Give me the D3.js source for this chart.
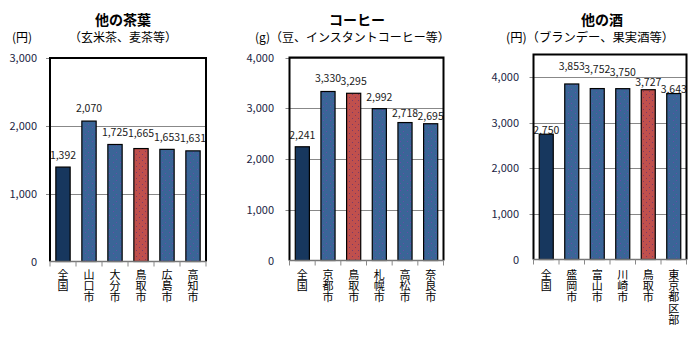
<!DOCTYPE html>
<html>
<head>
<meta charset="utf-8">
<script src="https://cdn.jsdelivr.net/npm/d3@7/dist/d3.min.js"></script>
<style>
  html, body { margin: 0; padding: 0; background: #fff; }
  svg { display: block; }
  text { font-family: "Noto Sans CJK JP", "Noto Sans", sans-serif; }
  .vname { writing-mode: vertical-rl; text-orientation: upright; }
</style>
</head>
<body>
<svg id="chart" width="700" height="340"></svg>
<script>
// ---- data ----
const teaCities   = ["全国", "山口市", "大分市", "鳥取市", "広島市", "高知市"];
const teaValues   = [1392, 2070, 1725, 1665, 1653, 1631];

const coffeeCities = ["全国", "京都市", "鳥取市", "札幌市", "高松市", "奈良市"];
const coffeeValues = [2241, 3330, 3295, 2992, 2718, 2695];

const liquorCities = ["全国", "盛岡市", "富山市", "川崎市", "鳥取市", "東京都区部"];
const liquorValues = [2750, 3853, 3752, 3750, 3727, 3643];

const teaTicks    = [0, 1000, 2000, 3000];
const coffeeTicks = [0, 1000, 2000, 3000, 4000];
const liquorTicks = [0, 1000, 2000, 3000, 4000];

// ---- layout of the three panels ----
const panels = [
  { cities: teaCities, values: teaValues, ticks: teaTicks, max: 3000,
    x0: 50, x1: 206, top: 58, bottom: 261.5, tickLabelX: 37,
    title: "他の茶葉", titleX: 123, titleY: 25,
    subtitle: "（玄米茶、麦茶等）", subX: 123, subY: 42, subAnchor: "middle", subSize: 12,
    unit: "(円)", unitX: 12, unitY: 42,
    labelLift: [12, 13, 12, 16, 12, 13] },
  { cities: coffeeCities, values: coffeeValues, ticks: coffeeTicks, max: 4000,
    x0: 289.5, x1: 443.5, top: 57.5, bottom: 260.5, tickLabelX: 274,
    title: "コーヒー", titleX: 357, titleY: 25,
    subtitle: "(g)（豆、インスタントコーヒー等）", subX: 255, subY: 42, subAnchor: "start", subSize: 12,
    labelLift: [12, 13.5, 12.5, 12, 9.5, 7.5] },
  { cities: liquorCities, values: liquorValues, ticks: liquorTicks, max: 4500,
    x0: 533.5, x1: 686.5, top: 54.5, bottom: 259.5, tickLabelX: 519,
    title: "他の酒", titleX: 602, titleY: 24.5,
    subtitle: "(円)（ブランデー、果実酒等）", subX: 506, subY: 41.5, subAnchor: "start", subSize: 12.3,
    labelLift: [4, 17.5, 20, 16.5, 7.5, 5] }
];

const NAVY = "#17375e", BLUE = "#3a6597", RED = "#c0504d";
const HOME = "鳥取市";

const svg = d3.select("#chart");
const defs = svg.append("defs");

// speckled fills for the city bars
function speckle(id, base, dot, dots, size) {
  const p = defs.append("pattern").attr("id", id)
    .attr("patternUnits", "userSpaceOnUse").attr("width", size).attr("height", size);
  p.append("rect").attr("width", size).attr("height", size).attr("fill", base);
  dots.forEach(([dx, dy]) => p.append("rect").attr("x", dx).attr("y", dy)
    .attr("width", 1).attr("height", 1).attr("fill", dot));
}
speckle("blueDots", BLUE, "#6a4aa8", [[1, 1], [4, 5]], 7);
speckle("redDots", RED, "#7a3a66", [[1, 1], [4, 4]], 6);

panels.forEach(pn => {
  const g = svg.append("g");
  const x = d3.scaleBand().domain(pn.cities).range([pn.x0, pn.x1])
    .paddingInner(0.45).paddingOuter(0.225);
  const y = d3.scaleLinear().domain([0, pn.max]).range([pn.bottom, pn.top]);

  // gridlines
  g.append("g").selectAll("line").data(pn.ticks.filter(t => t > 0)).join("line")
    .attr("x1", pn.x0 - 4).attr("x2", pn.x1)
    .attr("y1", d => Math.round(y(d)) + 0.5).attr("y2", d => Math.round(y(d)) + 0.5)
    .attr("stroke", "#888").attr("stroke-width", 1);

  // y axis tick labels
  g.append("g").selectAll("text").data(pn.ticks).join("text")
    .attr("x", pn.tickLabelX).attr("y", d => y(d) + 4)
    .attr("text-anchor", "end").attr("font-size", 11)
    .attr("font-family", "Liberation Sans, Arial, sans-serif")
    .attr("fill", "#1c2444")
    .text(d => d3.format(",")(d));

  // bars
  g.append("g").selectAll("rect").data(pn.values).join("rect")
    .attr("x", (d, i) => x(pn.cities[i]))
    .attr("y", d => y(d))
    .attr("width", x.bandwidth())
    .attr("height", d => pn.bottom - y(d))
    .attr("fill", (d, i) => i === 0 ? NAVY : (pn.cities[i] === HOME ? "url(#redDots)" : "url(#blueDots)"))
    .attr("stroke", "#000").attr("stroke-width", 1.2);

  // value labels
  g.append("g").selectAll("text").data(pn.values).join("text")
    .attr("x", (d, i) => x(pn.cities[i]) + x.bandwidth() / 2)
    .attr("y", (d, i) => y(d) - pn.labelLift[i] + 4)
    .attr("text-anchor", "middle").attr("font-size", 10.5)
    .attr("fill", "#1a1a1a")
    .text(d => d3.format(",")(d));

  // frame
  g.append("path")
    .attr("d", `M${pn.x0},${pn.bottom} V${pn.top} H${pn.x1} V${pn.bottom}`)
    .attr("fill", "none").attr("stroke", "#000").attr("stroke-width", 2);

  // category axis
  const step = x.step();
  g.append("line").attr("x1", pn.x0).attr("x2", pn.x1)
    .attr("y1", pn.bottom).attr("y2", pn.bottom)
    .attr("stroke", "#777").attr("stroke-width", 1.5);
  g.append("g").selectAll("line").data(d3.range(pn.cities.length + 1)).join("line")
    .attr("x1", i => pn.x0 + i * step).attr("x2", i => pn.x0 + i * step)
    .attr("y1", pn.bottom).attr("y2", pn.bottom + 5)
    .attr("stroke", "#888").attr("stroke-width", 1);

  // vertical category names
  g.append("g").selectAll("text").data(pn.cities).join("text")
    .attr("class", "vname")
    .attr("x", d => x(d) + x.bandwidth() / 2)
    .attr("y", 269)
    .attr("font-size", 11).attr("letter-spacing", 0.3).attr("fill", "#000")
    .text(d => d);

  // titles
  g.append("text").attr("x", pn.titleX).attr("y", pn.titleY)
    .attr("text-anchor", "middle").attr("font-size", 14).attr("font-weight", "bold")
    .attr("fill", "#000").text(pn.title);
  g.append("text").attr("x", pn.subX).attr("y", pn.subY)
    .attr("text-anchor", pn.subAnchor).attr("font-size", pn.subSize)
    .attr("fill", "#000").text(pn.subtitle);
  if (pn.unit) {
    g.append("text").attr("x", pn.unitX).attr("y", pn.unitY)
      .attr("font-size", 12).attr("fill", "#000").text(pn.unit);
  }
});
</script>
</body>
</html>
